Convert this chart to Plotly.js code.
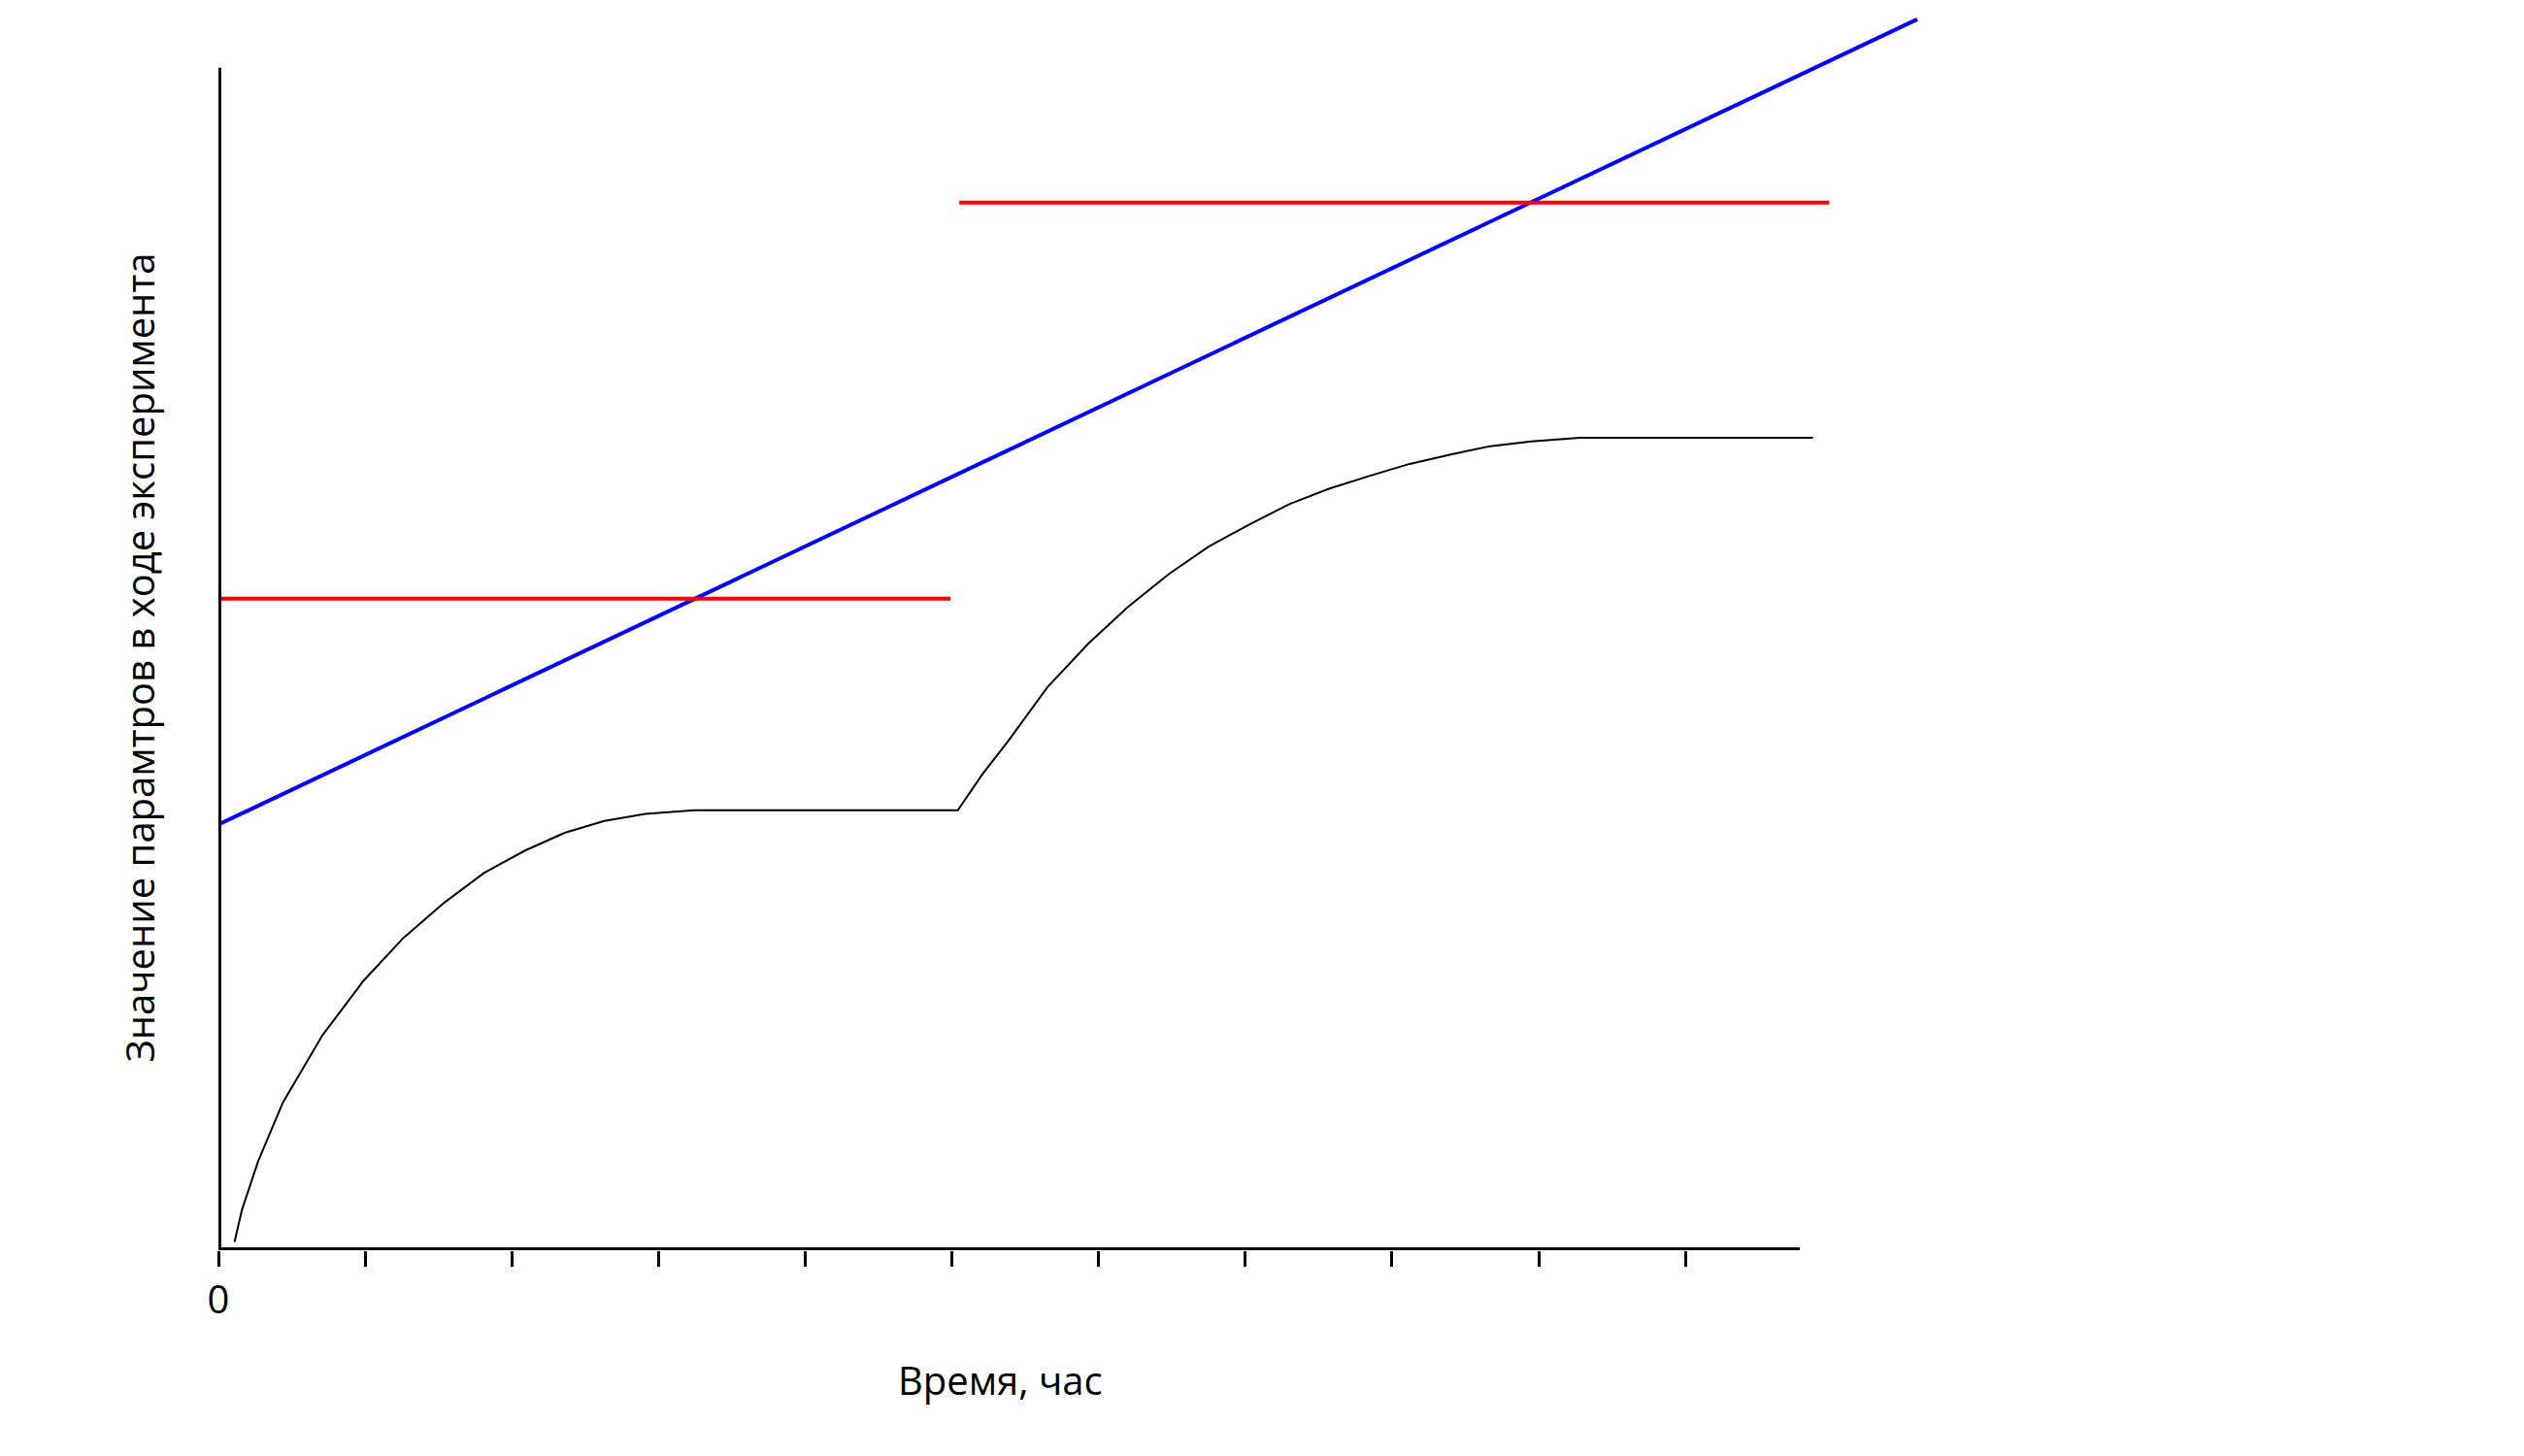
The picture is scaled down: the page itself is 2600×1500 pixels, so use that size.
<!DOCTYPE html>
<html><head><meta charset="utf-8">
<script src="https://cdn.plot.ly/plotly-3.0.1.min.js"></script>
<style>body{margin:0}</style></head>
<body><div id="c" style="width:2600px;height:1500px"></div>
<script>
const blueX=[0,11.58], blueY=[36.0,104.1];
const red1X=[0,4.99], red1Y=[55.1,55.1];
const red2X=[5.05,10.98], red2Y=[88.6,88.6];
const blackX=[0.11,0.16,0.27,0.44,0.71,0.99,1.26,1.54,1.81,2.09,2.36,2.63,2.91,3.24,3.51,5.04,5.21,5.38,5.65,5.93,6.20,6.48,6.75,7.03,7.30,7.57,7.85,8.12,8.40,8.67,8.95,9.28,10.87];
const blackY=[0.7,3.4,7.5,12.5,18.2,22.8,26.4,29.4,31.9,33.8,35.3,36.3,36.9,37.2,37.2,37.2,40.3,43.0,47.6,51.3,54.4,57.2,59.5,61.4,63.1,64.4,65.5,66.5,67.3,68.0,68.4,68.7,68.7];
const tickVals=[0,1,2,3,4,5,6,7,8,9,10];
const tickText=["0","","","","","","","","","",""];
const xTitle="Время, час", yTitle="Значение парамтров в ходе эксперимента";
const data=[
 {x:blueX,y:blueY,mode:'lines',line:{color:'#0000ff',width:4}},
 {x:red1X,y:red1Y,mode:'lines',line:{color:'#ff0000',width:4}},
 {x:red2X,y:red2Y,mode:'lines',line:{color:'#ff0000',width:4}},
 {x:blackX,y:blackY,mode:'lines',line:{color:'#000',width:2}}
];
const layout={
 width:2600,height:1500,showlegend:false,
 margin:{l:225,r:622,t:15,b:212},
 paper_bgcolor:'#fff',plot_bgcolor:'#fff',
 font:{family:'Open Sans',color:'#000'},
 xaxis:{range:[0,11.6],showgrid:false,zeroline:false,showline:false,
  tickvals:tickVals,ticktext:tickText,ticks:'outside',ticklen:16,tickwidth:3,tickcolor:'#000',
  tickfont:{size:40}},
 yaxis:{range:[0,104.5],showgrid:false,zeroline:false,showline:false,showticklabels:false},
 shapes:[
  {type:'line',xref:'x',yref:'y',x0:0,x1:10.78,y0:0,y1:0,line:{color:'#000',width:6}},
  {type:'line',xref:'x',yref:'y',x0:0,x1:0,y0:0,y1:100,line:{color:'#000',width:6}}
 ],
 annotations:[
  {text:xTitle,xref:'paper',yref:'paper',x:(1030-225)/1753,y:-0.105,showarrow:false,xanchor:'center',yanchor:'middle',font:{size:40}},
  {text:yTitle,xref:'paper',yref:'paper',x:-0.047,y:(1288-678)/1273,textangle:-90,showarrow:false,xanchor:'center',yanchor:'middle',font:{size:40}}
 ]
};
Plotly.newPlot('c',data,layout,{displayModeBar:false});
</script></body></html>
